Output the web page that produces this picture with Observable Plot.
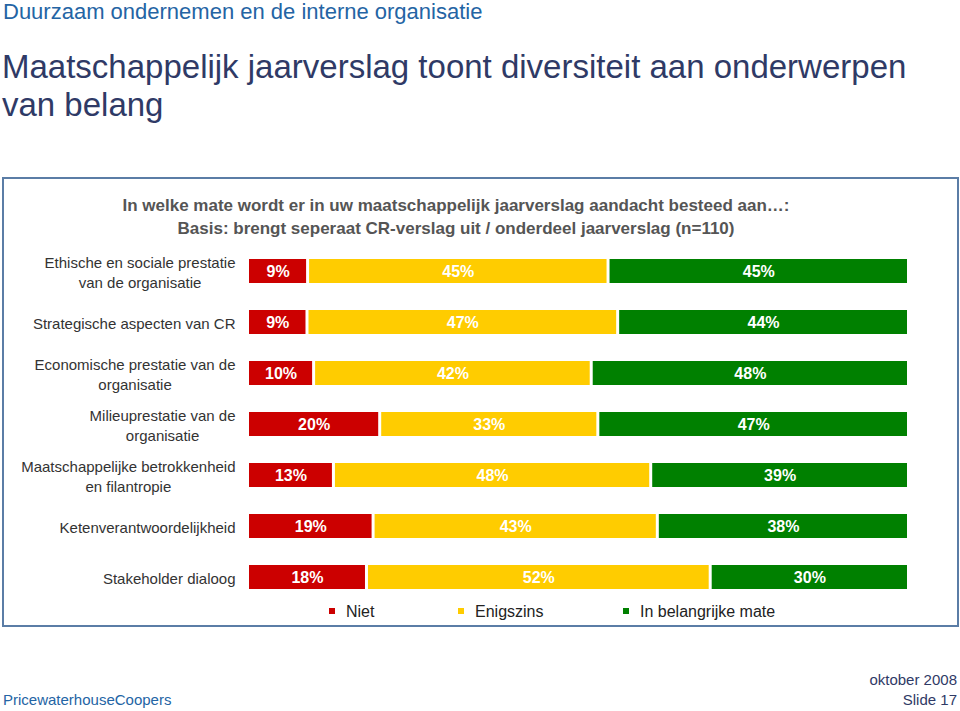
<!DOCTYPE html>
<html>
<head>
<meta charset="utf-8">
<script src="https://cdn.jsdelivr.net/npm/d3@7"></script>
<script src="https://cdn.jsdelivr.net/npm/@observablehq/plot@0.6"></script>
<style>
  body { margin:0; width:960px; height:711px; position:relative; background:#fff; overflow:hidden;
         font-family:"Liberation Sans", Arial, sans-serif; }
  .abs { position:absolute; white-space:nowrap; }
  #chart { position:absolute; left:0; top:220px; }
  .leg { position:absolute; top:602px; font-size:16px; color:#222; line-height:20px; }
  .leg i { display:inline-block; width:6px; height:6px; margin-right:11px; vertical-align:middle; position:relative; top:-2px; }
</style>
</head>
<body>
<div class="abs" style="left:3px;top:0px;font-size:22px;line-height:24px;color:#2464a4">Duurzaam ondernemen en de interne organisatie</div>
<div class="abs" style="left:2px;top:48px;font-size:33px;line-height:38px;color:#2f3a66">Maatschappelijk jaarverslag toont diversiteit aan onderwerpen<br>van belang</div>
<div class="abs" style="left:2px;top:177px;width:953px;height:446px;border:2px solid #5b7da6"></div>
<div class="abs" style="left:106px;top:194px;width:700px;text-align:center;font-size:17px;font-weight:bold;line-height:23px;color:#555">In welke mate wordt er in uw maatschappelijk jaarverslag aandacht besteed aan…:<br>Basis: brengt seperaat CR-verslag uit / onderdeel jaarverslag (n=110)</div>
<div id="chart"></div>
<div id="legend"></div>
<div class="abs" style="left:3px;top:690px;font-size:15px;line-height:20px;color:#2464a4">PricewaterhouseCoopers</div>
<div class="abs" style="right:3px;top:670px;font-size:15px;line-height:20px;text-align:right;color:#2f3a66">oktober 2008<br>Slide 17</div>
<script>
const categories = [
  "Ethische en sociale prestatie\nvan de organisatie",
  "Strategische aspecten van CR",
  "Economische prestatie van de\norganisatie",
  "Milieuprestatie van de\norganisatie",
  "Maatschappelijke betrokkenheid\nen filantropie",
  "Ketenverantwoordelijkheid",
  "Stakeholder dialoog"
];
const responses = ["Niet", "Enigszins", "In belangrijke mate"];
const niet       = [9, 9, 10, 20, 13, 19, 18];
const enigszins  = [45, 47, 42, 33, 48, 43, 52];
const belangrijk = [45, 44, 48, 47, 39, 38, 30];
const colors = ["#cc0000", "#ffcc00", "#008000"];

const series = [niet, enigszins, belangrijk];
const data = [];
categories.forEach((c, i) => {
  responses.forEach((r, j) => data.push({category: c, response: r, value: series[j][i]}));
});

const FONT = "'Liberation Sans', Arial, sans-serif";
const marginLeft = 247.5;
const labelRight = 235;
const ctx = document.createElement("canvas").getContext("2d");
ctx.font = "15px " + FONT;
const blockWidth = s => Math.max(...s.split("\n").map(l => ctx.measureText(l).width));

// one label mark per category: lines centered within a block right-aligned at labelRight
const labelMarks = categories.map(c => Plot.text([c], {
  y: d => d, text: d => d, frameAnchor: "left", textAnchor: "middle",
  dx: labelRight - blockWidth(c) / 2 - marginLeft,
  fontSize: 15, lineHeight: 1.33, fill: "#333"
}));

const plot = Plot.plot({
  width: 960,
  height: 420,
  marginTop: 10.85,
  marginBottom: 23.8,
  marginLeft,
  marginRight: 51.5,
  style: {fontFamily: FONT, background: "transparent"},
  x: {axis: null, domain: [0, 1]},
  y: {axis: null, domain: categories, padding: 0.53},
  color: {domain: responses, range: colors},
  marks: [
    Plot.barX(data, Plot.stackX({
      offset: "normalize", order: responses,
      x: "value", y: "category", z: "response", fill: "response",
      insetLeft: 1.5, insetRight: 1.5
    })),
    Plot.text(data, Plot.stackX({
      offset: "normalize", order: responses,
      x: "value", y: "category", z: "response",
      text: d => d.value + "%",
      fill: "white", fontWeight: "bold", fontSize: 16
    })),
    ...labelMarks
  ]
});
document.getElementById("chart").appendChild(plot);

// legend
const legendX = [329, 458, 623];
const leg = document.getElementById("legend");
responses.forEach((r, j) => {
  const el = document.createElement("div");
  el.className = "leg";
  el.style.left = legendX[j] + "px";
  el.innerHTML = `<i style="background:${colors[j]}"></i>${r}`;
  leg.appendChild(el);
});
</script>
</body>
</html>
